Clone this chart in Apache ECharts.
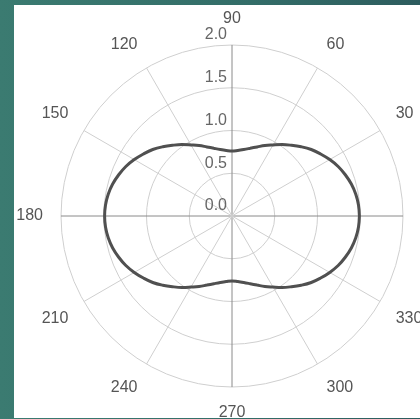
<!DOCTYPE html>
<html>
<head>
<meta charset="utf-8">
<script src="https://cdn.jsdelivr.net/npm/echarts@6/dist/echarts.min.js"></script>
<style>
  html, body { margin: 0; padding: 0; width: 420px; height: 419px; overflow: hidden;
    background: linear-gradient(90deg, #3b7b71 0%, #336d68 60%, #2d5c5e 100%); }
  #main { position: absolute; left: 14px; top: 5px; width: 420px; height: 413px; background: #fff; }
</style>
</head>
<body>
<div id="main"></div>
<script>
  // 角度(度)和半径
  var angles = [0, 5, 10, 15, 20, 25, 30, 35, 40, 45, 50, 55, 60, 65, 70, 75, 80, 85,
                90, 95, 100, 105, 110, 115, 120, 125, 130, 135, 140, 145, 150, 155, 160, 165, 170, 175,
                180, 185, 190, 195, 200, 205, 210, 215, 220, 225, 230, 235, 240, 245, 250, 255, 260, 265,
                270, 275, 280, 285, 290, 295, 300, 305, 310, 315, 320, 325, 330, 335, 340, 345, 350, 355, 360];
  var radius = [1.49, 1.485, 1.47, 1.445, 1.41, 1.37, 1.32, 1.265, 1.21, 1.145, 1.08, 1.02, 0.96, 0.91, 0.86, 0.82, 0.79, 0.77,
                0.76, 0.77, 0.79, 0.82, 0.86, 0.91, 0.96, 1.02, 1.08, 1.145, 1.21, 1.265, 1.32, 1.37, 1.41, 1.445, 1.47, 1.485,
                1.49, 1.485, 1.47, 1.445, 1.41, 1.37, 1.32, 1.265, 1.21, 1.145, 1.08, 1.02, 0.96, 0.91, 0.86, 0.82, 0.79, 0.77,
                0.76, 0.77, 0.79, 0.82, 0.86, 0.91, 0.96, 1.02, 1.08, 1.145, 1.21, 1.265, 1.32, 1.37, 1.41, 1.445, 1.47, 1.485, 1.49];
  var radiusTicks = [0, 0.5, 1.0, 1.5, 2.0];

  var myChart = echarts.init(document.getElementById('main'));

  // 0 度在右边，逆时针；半径轴放在 90 度方向，所以角度轴从 90 开始
  var seriesData = [];
  for (var i = 0; i < angles.length; i++) {
    seriesData.push([radius[i], (angles[i] - 90 + 360) % 360]);
  }

  var option = {
    animation: false,
    polar: {
      center: [218, 211],
      radius: 171
    },
    angleAxis: {
      type: 'value',
      min: 0,
      max: 360,
      interval: 30,
      startAngle: 90,
      clockwise: false,
      axisLine: { show: false },
      axisTick: { show: false },
      axisLabel: {
        margin: 18,
        color: '#555',
        fontSize: 16,
        fontFamily: 'Liberation Sans',
        formatter: function (v) { return String((v + 90) % 360); }
      },
      splitLine: {
        show: true,
        lineStyle: { color: ['#8a8a8a', '#cfcfcf', '#cfcfcf'], width: 1 }
      }
    },
    radiusAxis: {
      type: 'value',
      min: radiusTicks[0],
      max: radiusTicks[radiusTicks.length - 1],
      interval: 0.5,
      axisLine: { show: false },
      axisTick: { show: false },
      axisLabel: {
        margin: 5,
        verticalAlign: 'bottom',
        padding: [0, 0, 2, 0],
        color: '#666',
        fontSize: 16,
        fontFamily: 'Liberation Sans',
        formatter: function (v) { return v.toFixed(1); }
      },
      splitLine: {
        show: true,
        lineStyle: { color: '#cfcfcf', width: 1 }
      }
    },
    series: [{
      type: 'line',
      coordinateSystem: 'polar',
      smooth: 0.4,
      symbol: 'none',
      lineStyle: { color: '#505050', width: 3 },
      data: seriesData
    }]
  };
  myChart.setOption(option);
</script>
</body>
</html>
